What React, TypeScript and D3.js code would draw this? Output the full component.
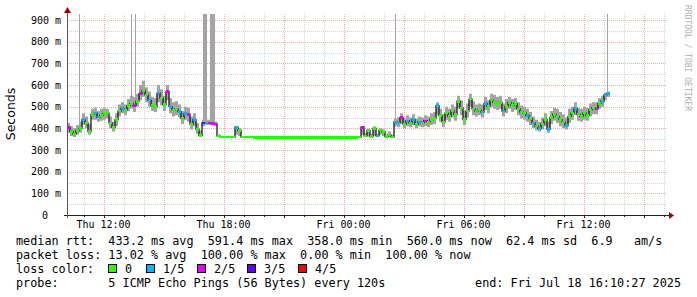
import React from 'react';
import * as d3 from 'd3';

// ---------- data ----------
const startTime = new Date(2025, 6, 17, 10, 10, 27);
const endTime = new Date(2025, 6, 18, 16, 10, 27);
const dataStart = new Date(2025, 6, 17, 10, 10, 27);
const stepMinutes = 9;

const medianMs = [
  405, 385, 375, 390, 400, 440, 425, 385, 465, 470, 452, 460, 468, 470, 425, 405, 440, 480, 492, 485,
  505, 515, 505, 525, 560, 575, 555, 530, 505, 500, 562, 540, 510, 570, 500, 485, 490, 478, 445, 468,
  465, 420, 440, 395, 368, 425, 425, 425, 423, 420, 365, 360, 360, 359, 360, 360, 405, 390, 360,
  360, 359, 359, 358, 358, 358, 358, 358, 358, 357, 358, 358, 358, 358, 358, 358, 358, 358, 358, 358,
  358, 358, 358, 358, 358, 358, 358, 358, 358, 358, 358, 358, 358, 358, 358, 358, 358, 358, 359,
  405, 365, 390, 362, 400, 365, 392, 385, 362, 370, 360, 430, 425, 450, 420, 435, 425, 440, 418, 430,
  425, 435, 430, 440, 445, 505, 460, 430, 470, 455, 480, 465, 525, 495, 440, 480, 535, 490, 480, 485,
  475, 515, 500, 530, 520, 515, 520, 480, 500, 520, 505, 515, 490, 475, 470, 460, 445, 425, 410, 400,
  420, 440, 395, 450, 465, 455, 440, 430, 412, 455, 470, 492, 465, 455, 470, 460, 485, 495, 490, 515,
  525, 555, 560,
];

const smokeLoMs = [
  380, 365, 360, 370, 380, 415, 400, 370, 440, 440, 430, 435, 440, 445, 400, 385, 410, 455, 470, 460,
  480, 490, 475, 500, 530, 545, 520, 500, 480, 475, 520, 505, 480, 530, 470, 455, 460, 450, 420, 440,
  430, 395, 410, 375, 360, 410, 415, 415, 415, 410, 360, 358, 358, 358, 358, 358, 370, 365, 358,
  360, 359, 359, 358, 358, 358, 358, 358, 358, 357, 358, 358, 358, 358, 358, 358, 358, 358, 358, 358,
  358, 358, 358, 358, 358, 358, 358, 358, 358, 358, 358, 358, 358, 358, 358, 358, 358, 358, 359,
  370, 360, 362, 358, 365, 360, 370, 365, 358, 360, 357, 410, 405, 420, 400, 410, 405, 415, 400, 410,
  405, 410, 405, 415, 420, 460, 430, 405, 440, 430, 450, 435, 490, 460, 415, 450, 500, 460, 455, 460,
  450, 485, 470, 500, 490, 485, 490, 455, 470, 490, 475, 485, 460, 445, 440, 430, 415, 400, 390, 385,
  395, 410, 380, 420, 435, 425, 410, 400, 395, 425, 440, 460, 435, 430, 440, 435, 455, 465, 465, 490,
  500, 530, 545,
];

const smokeHiMs = [
  425, 410, 400, 415, 430, 470, 455, 420, 490, 495, 480, 490, 495, 490, 455, 430, 470, 510, 520, 510,
  535, 550, 545, 560, 600, 620, 590, 570, 545, 540, 600, 580, 550, 600, 540, 520, 525, 510, 480, 500,
  495, 455, 470, 425, 390, 440, 440, 440, 438, 432, 372, 362, 362, 362, 362, 362, 410, 400, 363,
  360, 359, 359, 358, 358, 358, 358, 358, 358, 357, 358, 358, 358, 358, 358, 358, 358, 358, 358, 358,
  358, 358, 358, 358, 358, 358, 358, 358, 358, 358, 358, 358, 358, 358, 358, 358, 358, 358, 359,
  410, 380, 398, 375, 410, 375, 400, 395, 372, 385, 370, 445, 450, 470, 445, 460, 450, 465, 445, 455,
  450, 460, 455, 470, 475, 520, 490, 465, 500, 490, 510, 500, 550, 530, 480, 515, 560, 525, 510, 515,
  510, 545, 530, 560, 555, 545, 550, 515, 535, 545, 535, 540, 520, 505, 500, 490, 475, 455, 440, 430,
  450, 470, 430, 480, 495, 490, 475, 465, 450, 490, 500, 520, 495, 490, 500, 495, 515, 520, 520, 540,
  550, 565, 570,
];

const lossLevel = [
  2, 0, 0, 0, 0, 1, 0, 0, 0, 1, 1, 0, 0, 0, 0, 0, 0, 0, 1, 0,
  0, 0, 2, 0, 2, 0, 0, 1, 0, 0, 1, 0, 0, 2, 1, 0, 0, 1, 0, 1,
  2, 0, 1, 0, 0, 3, 1, 2, 2, 2, 0, 0, 0, 0, 0, 0, 1, 0, 0,
  0, 0, 0, 0, 0, 0, 0, 0, 0, 0, 0, 0, 0, 0, 0, 0, 0, 0, 0, 0,
  0, 0, 0, 0, 0, 0, 0, 0, 0, 0, 0, 0, 0, 0, 0, 0, 0, 0, 0,
  2, 0, 0, 0, 0, 1, 0, 0, 0, 0, 0, 1, 1, 2, 0, 1, 0, 1, 0, 1,
  0, 2, 0, 0, 0, 1, 0, 0, 0, 0, 0, 0, 0, 0, 0, 0, 0, 0, 0, 0,
  1, 1, 0, 0, 0, 0, 0, 1, 0, 0, 0, 0, 0, 0, 0, 1, 0, 1, 0, 1,
  0, 0, 1, 0, 0, 0, 0, 0, 1, 0, 0, 1, 0, 0, 0, 0, 0, 0, 2, 0,
  1, 1, 1,
];

// full-height loss spikes
const spikeStart = ['2025-07-17T10:46:27', '2025-07-17T13:22:27', '2025-07-17T13:33:27', '2025-07-17T16:58:27', '2025-07-17T17:19:27', '2025-07-18T02:34:27', '2025-07-18T13:10:27'];
const spikeEnd = ['2025-07-17T10:49:27', '2025-07-17T13:25:27', '2025-07-17T13:36:27', '2025-07-17T17:10:27', '2025-07-17T17:34:27', '2025-07-18T02:37:27', '2025-07-18T13:13:27'];
const spikeBottomMs = [400, 515, 505, 425, 425, 430, 560];

const yMajorTicks = [0, 100, 200, 300, 400, 500, 600, 700, 800, 900];
const lossLabels = ['0', '1/5', '2/5', '3/5', '4/5'];
const lossColors = ['#26ff00', '#00b8ff', '#dd00ff', '#5e00ff', '#ff0000'];

const legendRtt = 'median rtt:  433.2 ms avg  591.4 ms max  358.0 ms min  560.0 ms now  62.4 ms sd  6.9   am/s';
const legendLoss = 'packet loss: 13.02 % avg  100.00 % max  0.00 % min  100.00 % now';
const legendLossColor = 'loss color:';
const legendProbe = 'probe:       5 ICMP Echo Pings (56 Bytes) every 120s';
const legendEnd = 'end: Fri Jul 18 16:10:27 2025';
const yTitle = 'Seconds';
const watermark = 'RRDTOOL / TOBI OETIKER';

// ---------- layout ----------
const W = 697;
const H = 297;
const left = 67;
const right = 667;
const bottom = 215;
const top = 14;
const boxX = [108, 146, 197, 247, 298];

export default function App() {
  const x = d3.scaleTime().domain([startTime, endTime]).range([left, right]);
  const y = d3.scaleLinear().domain([0, 900]).range([bottom, 20]);

  const pts = medianMs.map((m, i) => ({
    t: new Date(dataStart.getTime() + i * stepMinutes * 60000),
    m,
    lo: smokeLoMs[i],
    hi: smokeHiMs[i],
    loss: lossLevel[i],
  }));
  const stepPx = x(pts[1].t) - x(pts[0].t);

  const area = d3
    .area<any>()
    .x((d) => x(d.t))
    .y0((d) => y(d.lo))
    .y1((d) => y(d.hi))
    .curve(d3.curveStepAfter);
  const line = d3
    .line<any>()
    .x((d) => x(d.t))
    .y((d) => y(d.m))
    .curve(d3.curveStepAfter);
  const extended = [...pts, { ...pts[pts.length - 1], t: new Date(pts[pts.length - 1].t.getTime() + stepMinutes * 60000) }];

  const hourTicks = d3.timeHour.every(1)!.range(startTime, endTime);
  const major = hourTicks.filter((d) => d.getHours() % 3 === 0);
  const minor = hourTicks.filter((d) => d.getHours() % 3 !== 0);
  const labelTicks = hourTicks.filter((d) => d.getHours() % 6 === 0);
  const fmt = d3.timeFormat('%a %H:%M');

  const yMinor = d3.range(50, 950, 100).filter((v) => y(v) >= top);
  const gridDash = '1,1';
  const mono = 'DejaVu Sans Mono, monospace';
  const lf = 11.8;

  return (
    <svg width={W} height={H} style={{ position: 'absolute', left: 0, top: 0, background: '#fff' }}>
      <rect x={0} y={0} width={W} height={H} fill="#ffffff" />
      {/* grid */}
      <g shapeRendering="crispEdges">
        {minor.map((d, i) => (
          <line key={'vm' + i} x1={Math.round(x(d)) + 0.5} x2={Math.round(x(d)) + 0.5} y1={top} y2={bottom} stroke="#d2d2d2" strokeDasharray={gridDash} />
        ))}
        {yMinor.map((v, i) => (
          <line key={'hm' + i} x1={left} x2={right} y1={Math.round(y(v)) + 0.5} y2={Math.round(y(v)) + 0.5} stroke="#d2d2d2" strokeDasharray={gridDash} />
        ))}
        {major.map((d, i) => (
          <line key={'vM' + i} x1={Math.round(x(d)) + 0.5} x2={Math.round(x(d)) + 0.5} y1={top} y2={bottom} stroke="#eeaaaa" strokeDasharray={gridDash} />
        ))}
        {yMajorTicks.slice(1).map((v, i) => (
          <line key={'hM' + i} x1={left} x2={right} y1={Math.round(y(v)) + 0.5} y2={Math.round(y(v)) + 0.5} stroke="#eeaaaa" strokeDasharray={gridDash} />
        ))}
      </g>

      {/* loss spikes */}
      <g shapeRendering="crispEdges">
        {spikeStart.map((s, i) => {
          const x0 = Math.round(x(new Date(s)));
          const x1 = Math.max(x0 + 1, Math.round(x(new Date(spikeEnd[i]))));
          return <rect key={'sp' + i} x={x0} width={x1 - x0} y={top} height={y(spikeBottomMs[i]) - top} fill="#a4a4a4" />;
        })}
      </g>

      {/* smoke */}
      <path d={area(extended) || ''} fill="#a4a4a4" />
      {/* median */}
      <path d={line(extended) || ''} fill="none" stroke="#1a1a1a" strokeWidth={1.3} />
      <g shapeRendering="crispEdges">
        {pts.map((d, i) => (
          <rect key={'m' + i} x={x(d.t)} y={y(d.m) - 1.25} width={stepPx} height={2.5} fill={lossColors[d.loss]} />
        ))}
      </g>

      {/* axes */}
      <g shapeRendering="crispEdges">
        <line x1={left - 3} x2={right + 3} y1={bottom + 0.5} y2={bottom + 0.5} stroke="#222" />
        <line x1={left + 0.5} x2={left + 0.5} y1={bottom + 3} y2={top - 3} stroke="#555" />
        {major.map((d, i) => (
          <line key={'tk' + i} x1={Math.round(x(d)) + 0.5} x2={Math.round(x(d)) + 0.5} y1={bottom} y2={bottom + 3} stroke="#222" />
        ))}
        {minor.map((d, i) => (
          <line key={'tkm' + i} x1={Math.round(x(d)) + 0.5} x2={Math.round(x(d)) + 0.5} y1={bottom} y2={bottom + 2} stroke="#222" />
        ))}
      </g>
      <path d={`M${right + 2},${bottom - 3} L${right + 7},${bottom + 0.5} L${right + 2},${bottom + 4} Z`} fill="#a00000" />
      <path d={`M${left - 3},${top - 1} L${left + 0.5},${top - 7} L${left + 4},${top - 1} Z`} fill="#a00000" />

      {/* y labels */}
      {yMajorTicks.map((v) => (
        <text key={'yl' + v} x={v === 0 ? 48 : 61} y={y(v) + 3.5} textAnchor="end" fontFamily={mono} fontSize={10} fill="#000">
          {v === 0 ? '0' : `${v} m`}
        </text>
      ))}
      {/* x labels */}
      {labelTicks.map((d, i) => (
        <text key={'xl' + i} x={x(d)} y={228} textAnchor="middle" fontFamily={mono} fontSize={10} fill="#000">
          {fmt(d)}
        </text>
      ))}

      <text transform={`translate(15,${114}) rotate(-90)`} textAnchor="middle" fontFamily="DejaVu Sans, sans-serif" fontSize={12.5} fill="#000">
        {yTitle}
      </text>
      <text transform={`translate(685,5) rotate(90)`} fontFamily={mono} fontSize={8} fill="#b0b0b0">
        {watermark}
      </text>

      {/* legend */}
      <g fontFamily={mono} fontSize={lf} fill="#000" style={{ whiteSpace: 'pre' }}>
        <text x={16} y={245} xmlSpace="preserve">{legendRtt}</text>
        <text x={16} y={259} xmlSpace="preserve">{legendLoss}</text>
        <text x={16} y={273} xmlSpace="preserve">{legendLossColor}</text>
        <text x={16} y={287} xmlSpace="preserve">{legendProbe}</text>
        <text x={681} y={287} textAnchor="end" xmlSpace="preserve">{legendEnd}</text>
      </g>
      {lossLabels.map((lab, i) => (
        <g key={'lg' + i}>
          <rect x={boxX[i] + 0.5} y={264.5} width={8} height={8} fill={lossColors[i]} stroke="#000" shapeRendering="crispEdges" />
          <text x={boxX[i] + 17} y={273} fontFamily={mono} fontSize={lf} fill="#000">{lab}</text>
        </g>
      ))}
    </svg>
  );
}
